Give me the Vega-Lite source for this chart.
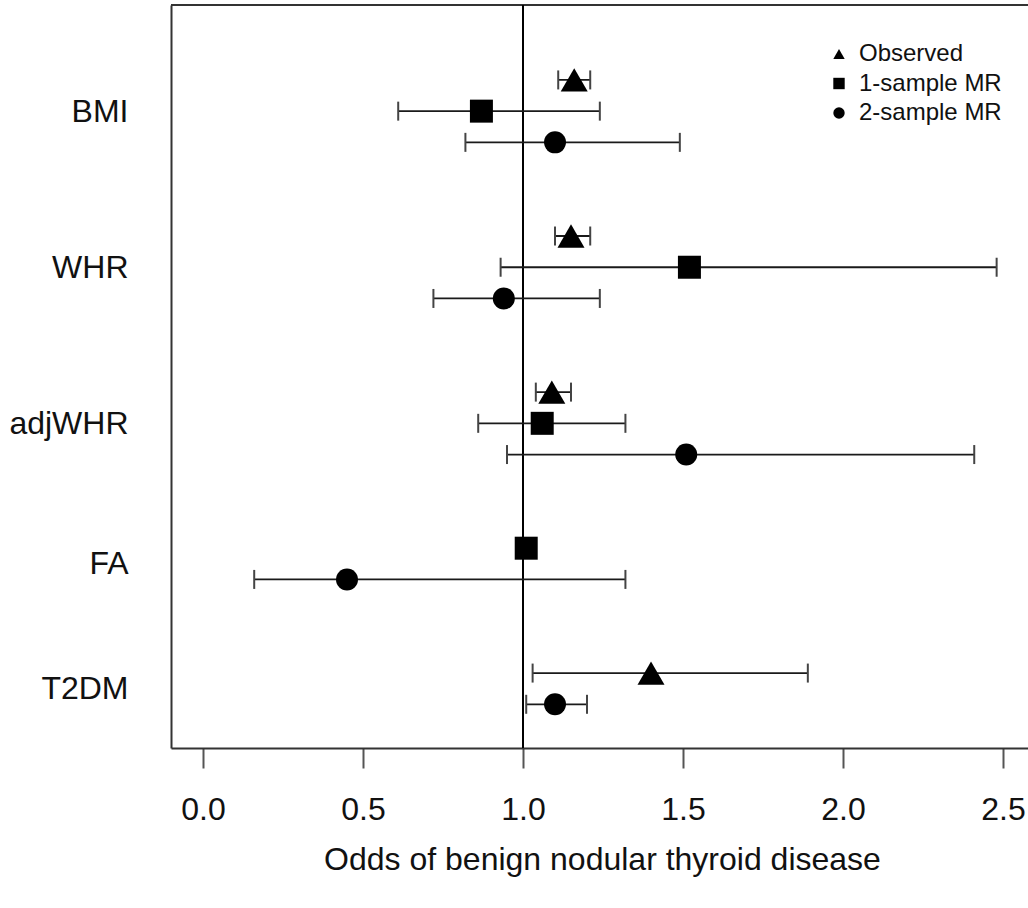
{
  "$schema": "https://vega.github.io/schema/vega-lite/v6.json",
  "width": 857,
  "height": 743,
  "autosize": {"type": "none"},
  "padding": {"left": 171, "top": 5, "right": 0, "bottom": 160},
  "config": {
    "view": {"stroke": null},
    "font": "Liberation Sans",
    "axis": {"grid": false}
  },
  "data": {
    "values": [
      {"var": "BMI", "type": "Observed", "row": 0, "est": 1.16, "lo": 1.11, "hi": 1.21},
      {"var": "BMI", "type": "1-sample MR", "row": 1, "est": 0.87, "lo": 0.61, "hi": 1.24},
      {"var": "BMI", "type": "2-sample MR", "row": 2, "est": 1.10, "lo": 0.82, "hi": 1.49},
      {"var": "WHR", "type": "Observed", "row": 5, "est": 1.15, "lo": 1.10, "hi": 1.21},
      {"var": "WHR", "type": "1-sample MR", "row": 6, "est": 1.52, "lo": 0.93, "hi": 2.48},
      {"var": "WHR", "type": "2-sample MR", "row": 7, "est": 0.94, "lo": 0.72, "hi": 1.24},
      {"var": "adjWHR", "type": "Observed", "row": 10, "est": 1.09, "lo": 1.04, "hi": 1.15},
      {"var": "adjWHR", "type": "1-sample MR", "row": 11, "est": 1.06, "lo": 0.86, "hi": 1.32},
      {"var": "adjWHR", "type": "2-sample MR", "row": 12, "est": 1.51, "lo": 0.95, "hi": 2.41},
      {"var": "FA", "type": "1-sample MR", "row": 15, "est": 1.01, "lo": null, "hi": null},
      {"var": "FA", "type": "2-sample MR", "row": 16, "est": 0.45, "lo": 0.16, "hi": 1.32},
      {"var": "T2DM", "type": "Observed", "row": 19, "est": 1.40, "lo": 1.03, "hi": 1.89},
      {"var": "T2DM", "type": "2-sample MR", "row": 20, "est": 1.10, "lo": 1.01, "hi": 1.20}
    ]
  },
  "layer": [
    {
      "mark": {"type": "rule", "color": "#333", "strokeWidth": 2},
      "encoding": {"y": {"datum": -2.4}}
    },
    {
      "mark": {"type": "rule", "color": "black", "strokeWidth": 1.6},
      "encoding": {"x": {"datum": 1}}
    },
    {
      "transform": [{"filter": "datum.lo != null"}],
      "mark": {"type": "rule", "color": "#1a1a1a", "strokeWidth": 1.8},
      "encoding": {
        "x": {"field": "lo", "type": "quantitative"},
        "x2": {"field": "hi"},
        "y": {"field": "row", "type": "quantitative"}
      }
    },
    {
      "transform": [{"filter": "datum.lo != null"}],
      "mark": {"type": "tick", "orient": "vertical", "color": "#444", "thickness": 2, "size": 19, "opacity": 1},
      "encoding": {
        "x": {"field": "lo", "type": "quantitative"},
        "y": {"field": "row", "type": "quantitative"}
      }
    },
    {
      "transform": [{"filter": "datum.lo != null"}],
      "mark": {"type": "tick", "orient": "vertical", "color": "#444", "thickness": 2, "size": 19, "opacity": 1},
      "encoding": {
        "x": {"field": "hi", "type": "quantitative"},
        "y": {"field": "row", "type": "quantitative"}
      }
    },
    {
      "transform": [{"filter": "datum.type == 'Observed'"}],
      "mark": {"type": "point", "filled": true, "color": "black", "opacity": 1, "size": 729},
      "encoding": {
        "x": {
          "field": "est",
          "type": "quantitative",
          "title": "Odds of benign nodular thyroid disease",
          "scale": {"domain": [-0.1, 2.578], "nice": false, "zero": false},
          "axis": {
            "title": "Odds of benign nodular thyroid disease",
            "values": [0, 0.5, 1, 1.5, 2, 2.5],
            "format": ".1f",
            "tickSize": 20,
            "tickColor": "#555",
            "tickWidth": 2,
            "domainColor": "#333",
            "domainWidth": 2,
            "labelFontSize": 32,
            "labelColor": "#111",
            "labelPadding": 26,
            "labelFlush": false,
            "titleFontSize": 32,
            "titleFontWeight": "normal",
            "titleColor": "#111",
            "titleX": 431,
            "titleY": 96,
            "titleAlign": "center",
            "titleBaseline": "top"
          }
        },
        "y": {
          "field": "row",
          "type": "quantitative",
          "scale": {"domain": [-2.4, 21.4], "reverse": true, "nice": false, "zero": false},
          "axis": {
            "title": null,
            "values": [1, 6, 11, 15.5, 19.5],
            "labelExpr": "datum.value == 1 ? 'BMI' : datum.value == 6 ? 'WHR' : datum.value == 11 ? 'adjWHR' : datum.value == 15.5 ? 'FA' : 'T2DM'",
            "ticks": false,
            "tickSize": 0,
            "labelPadding": 43,
            "labelFontSize": 32,
            "labelColor": "#111",
            "domainColor": "#333",
            "domainWidth": 2
          }
        },
        "shape": {
          "field": "type",
          "type": "nominal",
          "scale": {"domain": ["Observed", "1-sample MR", "2-sample MR"], "range": ["triangle-up", "square", "circle"]},
          "legend": {
            "title": null,
            "orient": "none",
            "legendX": 656,
            "legendY": 37,
            "padding": 0,
            "symbolSize": 130,
            "symbolFillColor": "black",
            "symbolStrokeColor": "black",
            "symbolStrokeWidth": 0,
            "labelFontSize": 24,
            "labelColor": "#111",
            "labelOffset": 8,
            "rowPadding": 5.5
          }
        }
      }
    },
    {
      "transform": [{"filter": "datum.type == '1-sample MR'"}],
      "mark": {"type": "point", "filled": true, "color": "black", "opacity": 1, "size": 529},
      "encoding": {
        "x": {"field": "est", "type": "quantitative"},
        "y": {"field": "row", "type": "quantitative"},
        "shape": {"field": "type", "type": "nominal"}
      }
    },
    {
      "transform": [{"filter": "datum.type == '2-sample MR'"}],
      "mark": {"type": "point", "filled": true, "color": "black", "opacity": 1, "size": 484},
      "encoding": {
        "x": {"field": "est", "type": "quantitative"},
        "y": {"field": "row", "type": "quantitative"},
        "shape": {"field": "type", "type": "nominal"}
      }
    }
  ]
}
